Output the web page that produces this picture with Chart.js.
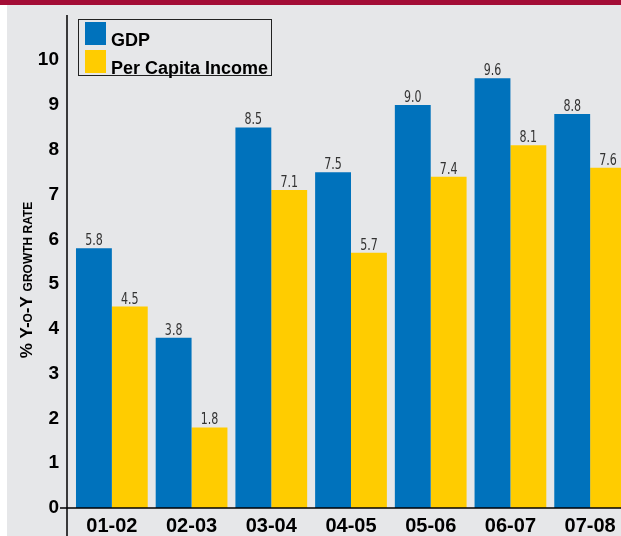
<!DOCTYPE html>
<html>
<head>
<meta charset="utf-8">
<script src="https://cdn.jsdelivr.net/npm/chart.js@4"></script>
<style>
  html, body { margin: 0; padding: 0; }
  body { width: 621px; height: 536px; overflow: hidden; position: relative; background: #e6e7e9; }
  #band { position: absolute; left: 0; top: 0; width: 100%; height: 5px; background: #a30d36; z-index: 3; }
  #strip { position: absolute; left: 0; top: 0; width: 7px; height: 536px; background: #fff; z-index: 2; }
  #wrap { position: absolute; left: 0; top: 0; width: 630px; height: 536px; }
  #legend {
    position: absolute; left: 78px; top: 19px; width: 192px; height: 55px;
    border: 1px solid #222; z-index: 1;
    font: bold 18px "Liberation Sans", Arial, sans-serif; color: #000;
  }
  #legend .row { position: absolute; left: 0; height: 26px; width: 100%; }
  #legend .sw { position: absolute; left: 6px; top: 0; width: 21px; height: 23px; }
  #legend .tx { position: absolute; left: 32px; top: 9px; line-height: 18px; white-space: nowrap; }
</style>
</head>
<body>
<div id="band"></div>
<div id="strip"></div>
<div id="wrap"><canvas id="chart"></canvas></div>
<div id="legend"></div>
<script>
const categories = ['01-02', '02-03', '03-04', '04-05', '05-06', '06-07', '07-08'];
const gdp = [5.8, 3.8, 8.5, 7.5, 9.0, 9.6, 8.8];
const perCapita = [4.5, 1.8, 7.1, 5.7, 7.4, 8.1, 7.6];
const yTicks = [0, 1, 2, 3, 4, 5, 6, 7, 8, 9, 10];

const BLUE = '#0072bc';
const YELLOW = '#ffcc00';

// axis lines: the y line sits a little left of the first bar group
const axisLines = {
  id: 'axisLines',
  afterDatasetsDraw(chart) {
    const { ctx, chartArea } = chart;
    ctx.save();
    ctx.strokeStyle = '#000';
    ctx.lineWidth = 1.5;
    ctx.beginPath();
    ctx.moveTo(67, 15);
    ctx.lineTo(67, chart.height);
    ctx.moveTo(60, chartArea.bottom);
    ctx.lineTo(chart.width, chartArea.bottom);
    ctx.stroke();
    ctx.restore();
  },
};

const valueLabels = {
  id: 'valueLabels',
  afterDatasetsDraw(chart) {
    const { ctx } = chart;
    ctx.save();
    ctx.font = '15px "Liberation Sans Narrow", "DejaVu Sans Condensed", "Roboto", sans-serif';
    ctx.fillStyle = '#333';
    ctx.textAlign = 'center';
    ctx.textBaseline = 'alphabetic';
    chart.data.datasets.forEach((ds, i) => {
      chart.getDatasetMeta(i).data.forEach((bar, j) => {
        ctx.save();
        ctx.translate(bar.x, bar.y - 3);
        ctx.scale(0.82, 1); // squeeze to look like a narrow face
        ctx.fillText(ds.data[j].toFixed(1), 0, 0);
        ctx.restore();
      });
    });
    ctx.restore();
  },
};

// rotated y title with small caps parts
const yTitle = {
  id: 'yTitle',
  afterDraw(chart) {
    const { ctx } = chart;
    const parts = [
      ['% Y-', 17], ['O', 12], ['-Y ', 17], ['GROWTH RATE', 12],
    ];
    ctx.save();
    ctx.fillStyle = '#000';
    ctx.textBaseline = 'alphabetic';
    ctx.textAlign = 'left';
    let total = 0;
    parts.forEach(([t, s]) => {
      ctx.font = `bold ${s}px "Liberation Sans", Arial, sans-serif`;
      total += ctx.measureText(t).width;
    });
    ctx.translate(32, 280);
    ctx.rotate(-Math.PI / 2);
    let x = -total / 2;
    parts.forEach(([t, s]) => {
      ctx.font = `bold ${s}px "Liberation Sans", Arial, sans-serif`;
      ctx.fillText(t, x, 0);
      x += ctx.measureText(t).width;
    });
    ctx.restore();
  },
};

const htmlLegend = {
  id: 'htmlLegend',
  afterUpdate(chart) {
    const box = document.getElementById('legend');
    box.innerHTML = '';
    chart.data.datasets.forEach((ds, i) => {
      const row = document.createElement('div');
      row.className = 'row';
      row.style.top = (2 + i * 28) + 'px';
      const sw = document.createElement('span');
      sw.className = 'sw';
      sw.style.background = ds.backgroundColor;
      const tx = document.createElement('span');
      tx.className = 'tx';
      tx.textContent = ds.label;
      row.appendChild(sw);
      row.appendChild(tx);
      box.appendChild(row);
    });
  },
};

new Chart(document.getElementById('chart'), {
  type: 'bar',
  data: {
    labels: categories,
    datasets: [
      { label: 'GDP', data: gdp, backgroundColor: BLUE },
      { label: 'Per Capita Income', data: perCapita, backgroundColor: YELLOW },
    ],
  },
  options: {
    responsive: true,
    maintainAspectRatio: false,
    animation: false,
    layout: { padding: { top: 16, left: 0, right: 0, bottom: 0 } },
    datasets: { bar: { barPercentage: 1, categoryPercentage: 0.9, borderWidth: 0 } },
    plugins: {
      legend: { display: false },
      tooltip: { enabled: false },
    },
    scales: {
      x: {
        offset: true,
        grid: { display: false, drawTicks: false },
        border: { display: false },
        ticks: {
          color: '#000',
          padding: 6,
          font: { family: '"Liberation Sans", Arial, sans-serif', size: 20, weight: 'bold' },
        },
        afterFit(scale) { scale.height = 28; },
      },
      y: {
        min: 0,
        max: 10.8,
        grid: { display: false, drawTicks: false },
        border: { display: false },
        ticks: {
          color: '#000',
          padding: 13,
          font: { family: '"Liberation Sans", Arial, sans-serif', size: 19, weight: 'bold' },
        },
        afterBuildTicks(scale) { scale.ticks = yTicks.map((v) => ({ value: v })); },
        afterFit(scale) { scale.width = 72; },
      },
    },
  },
  plugins: [axisLines, valueLabels, yTitle, htmlLegend],
});
</script>
</body>
</html>
